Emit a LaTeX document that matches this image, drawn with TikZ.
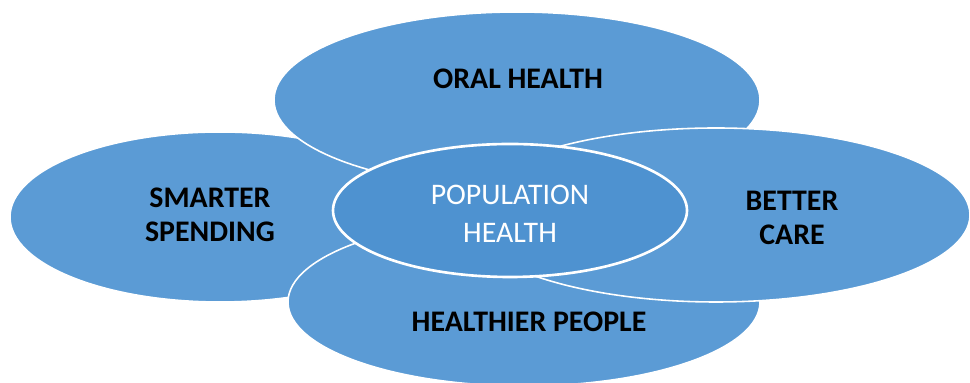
\documentclass[tikz,border=0pt]{standalone}
\usepackage{fontspec}
\setmainfont{Carlito}
\usepackage{tikz}
\definecolor{petal}{HTML}{5B9BD5}
\definecolor{core}{HTML}{4E92D0}
\tikzset{
	petal/.style={fill=petal, draw=white, line width=0.9pt},
	boldlabel/.style={align=center, font=\fontsize{17}{19.4}\selectfont\bfseries, text=black},
}

\begin{document}
\begin{tikzpicture}
		%%%%% START %%%%%
		\useasboundingbox (0, 0) rectangle (19.4, 7.66);
		
		\draw[petal] (4.40, 3.32) ellipse (4.20 and 1.70);
		\draw[petal] (10.34, 5.66) ellipse (4.86 and 1.76);
		\draw[petal] (10.48, 1.62) ellipse (4.72 and 1.68);
		\draw[petal] (14.32, 3.36) ellipse (5.08 and 1.74);
		
		\draw[fill=core, draw=white, line width=1.5pt] (10.20, 3.45) ellipse (3.54 and 1.33);
		
		\node[boldlabel] (oral) at (10.36, 6.08) {ORAL HEALTH};
		\node[boldlabel] (spending) at (4.20, 3.37) {SMARTER\\SPENDING};
		\node[boldlabel] (care) at (15.84, 3.30) {BETTER\\CARE};
		\node[boldlabel] (people) at (10.58, 1.22) {HEALTHIER PEOPLE};
		
		\node[align=center, font=\fontsize{17}{21.5}\selectfont, text=white] (population) at (10.20, 3.39) {POPULATION\\HEALTH};
		%%%%% END %%%%%
	\end{tikzpicture}
\end{document}
